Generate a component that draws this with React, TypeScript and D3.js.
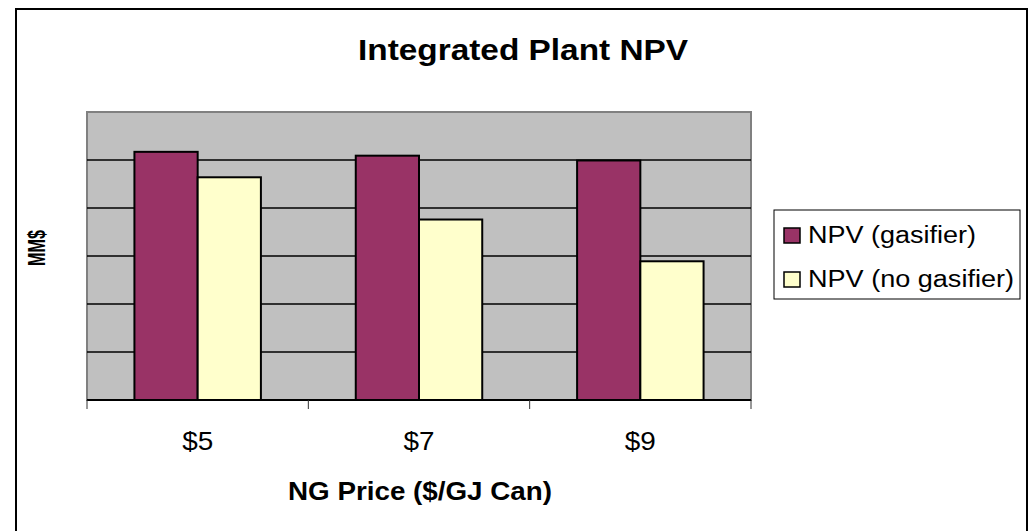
import React, { useEffect, useRef } from 'react'
import * as d3 from 'd3'

// chart data (MM$, read off the gridlines; axis has no tick labels)
const categories = ['$5', '$7', '$9']
const seriesNames = ['NPV (gasifier)', 'NPV (no gasifier)']
const gasifier = [5.17, 5.09, 4.99]
const noGasifier = [4.64, 3.76, 2.89]
const colors = ['#993366', '#FFFFCC']

export default function App() {
  const ref = useRef<SVGSVGElement>(null)

  useEffect(() => {
    const svg = d3.select(ref.current)
    svg.selectAll('*').remove()

    const plot = { left: 87, top: 112, right: 751, bottom: 400 }
    const font = '"Liberation Sans", Arial, sans-serif'

    // outer border
    svg.append('rect')
      .attr('x', 16).attr('y', 9).attr('width', 1011).attr('height', 540)
      .attr('fill', 'white').attr('stroke', 'black').attr('stroke-width', 2)

    const x0 = d3.scaleBand().domain(categories).range([plot.left, plot.right])
    const x1 = d3.scaleBand().domain(seriesNames).range([0, x0.bandwidth()]).paddingOuter(0.75)
    const y = d3.scaleLinear().domain([0, 6]).range([plot.bottom, plot.top])

    // plot background
    svg.append('rect')
      .attr('x', plot.left).attr('y', plot.top)
      .attr('width', plot.right - plot.left).attr('height', plot.bottom - plot.top)
      .attr('fill', '#C0C0C0').attr('stroke', '#808080').attr('stroke-width', 2)

    // gridlines
    svg.selectAll('.grid').data(d3.range(1, 6)).join('line').attr('class', 'grid')
      .attr('x1', plot.left).attr('x2', plot.right)
      .attr('y1', d => y(d)).attr('y2', d => y(d))
      .attr('stroke', 'black').attr('stroke-width', 1.5)

    // bars
    const rows = categories.map((c, i) => ({ c, vals: [gasifier[i], noGasifier[i]] }))
    const g = svg.selectAll('.cat').data(rows).join('g').attr('class', 'cat')
      .attr('transform', d => `translate(${x0(d.c)},0)`)
    g.selectAll('rect').data(d => d.vals.map((v, j) => ({ v, s: seriesNames[j], j }))).join('rect')
      .attr('x', d => x1(d.s)!)
      .attr('width', x1.bandwidth())
      .attr('y', d => y(d.v))
      .attr('height', d => y(0) - y(d.v))
      .attr('fill', d => colors[d.j])
      .attr('stroke', 'black').attr('stroke-width', 2)

    // x axis line and ticks
    svg.append('line')
      .attr('x1', plot.left).attr('x2', plot.right)
      .attr('y1', plot.bottom).attr('y2', plot.bottom)
      .attr('stroke', 'black').attr('stroke-width', 2)
    const tickXs = categories.map(c => x0(c)!).concat([plot.right])
    svg.selectAll('.tick').data(tickXs).join('line').attr('class', 'tick')
      .attr('x1', d => d).attr('x2', d => d)
      .attr('y1', plot.bottom).attr('y2', plot.bottom + 9)
      .attr('stroke', '#333').attr('stroke-width', 1)

    // category labels
    svg.selectAll('.xlab').data(categories).join('text').attr('class', 'xlab')
      .attr('x', d => x0(d)! + x0.bandwidth() / 2)
      .attr('y', 450)
      .attr('text-anchor', 'middle')
      .attr('font-family', font).attr('font-size', 26)
      .attr('textLength', 31).attr('lengthAdjust', 'spacingAndGlyphs')
      .text(d => d)

    // title
    svg.append('text')
      .attr('x', 523).attr('y', 60)
      .attr('text-anchor', 'middle')
      .attr('font-family', font).attr('font-size', 30).attr('font-weight', 'bold')
      .attr('textLength', 330).attr('lengthAdjust', 'spacingAndGlyphs')
      .text('Integrated Plant NPV')

    // axis titles
    svg.append('text')
      .attr('x', 420).attr('y', 500)
      .attr('text-anchor', 'middle')
      .attr('font-family', font).attr('font-size', 26).attr('font-weight', 'bold')
      .attr('textLength', 264).attr('lengthAdjust', 'spacingAndGlyphs')
      .text('NG Price ($/GJ Can)')

    svg.append('text')
      .attr('transform', 'translate(45, 248) scale(1.4, 1) rotate(-90)')
      .attr('text-anchor', 'middle')
      .attr('font-family', font).attr('font-size', 17).attr('font-weight', 'bold')
      .attr('textLength', 36).attr('lengthAdjust', 'spacingAndGlyphs')
      .text('MM$')

    // legend
    const lg = svg.append('g').attr('transform', 'translate(774, 210)')
    lg.append('rect')
      .attr('width', 246).attr('height', 89)
      .attr('fill', 'white').attr('stroke', 'black').attr('stroke-width', 1)
    const items = lg.selectAll('.item').data(seriesNames).join('g').attr('class', 'item')
      .attr('transform', (d, i) => `translate(0, ${25 + i * 44})`)
    items.append('rect')
      .attr('x', 10).attr('y', -7).attr('width', 16).attr('height', 15)
      .attr('fill', (d, i) => colors[i]).attr('stroke', 'black').attr('stroke-width', 1.5)
    items.append('text')
      .attr('x', 34).attr('y', 8)
      .attr('font-family', font).attr('font-size', 23)
      .attr('textLength', (d, i) => (i === 0 ? 168 : 206)).attr('lengthAdjust', 'spacingAndGlyphs')
      .text(d => d)
  }, [])

  return (
    <svg ref={ref} width={1030} height={531}
      style={{ position: 'absolute', left: 0, top: 0, background: 'white' }} />
  )
}
